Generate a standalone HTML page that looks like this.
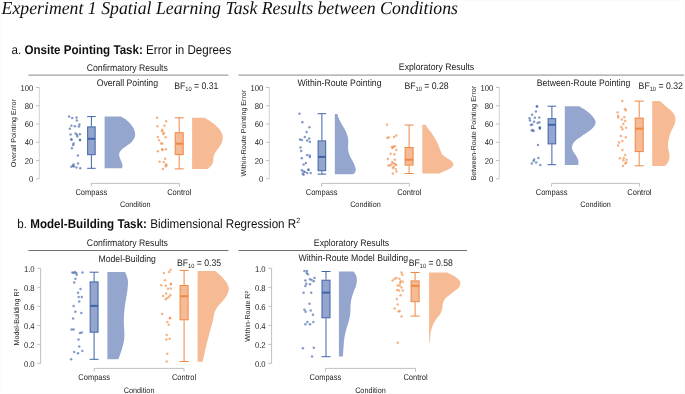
<!DOCTYPE html>
<html><head><meta charset="utf-8"><title>Figure</title>
<style>
html,body{margin:0;padding:0;background:#fff;}
body{width:685px;height:394px;overflow:hidden;position:relative;font-family:"Liberation Sans",sans-serif;}
svg{position:absolute;left:0;top:0;display:block;font-family:"Liberation Sans",sans-serif;will-change:transform;opacity:0.999;}
svg text{text-rendering:geometricPrecision;}
</style></head><body>
<svg width="685" height="394" viewBox="0 0 685 394">
<rect x="0" y="0" width="685" height="394" fill="#ffffff"/>
<path d="M0,0.5 H685 M684.5,0 V394 M0,393.5 H685 M1.1,16 V394" stroke="#fbfbfb" stroke-width="1" fill="none"/>
<text transform="translate(1.6,13.6) scale(1,1.03)" font-size="17.75" text-anchor="start" fill="#111" font-family="Liberation Serif" font-style="italic">Experiment 1 Spatial Learning Task Results between Conditions</text>
<text transform="translate(11.5,53.9) scale(1,1.09)" font-size="11.62" text-anchor="start" fill="#111" >a. <tspan font-weight="bold">Onsite Pointing Task:</tspan> Error in Degrees</text>
<text transform="translate(17.3,227.8) scale(1,1.09)" font-size="11.63" text-anchor="start" fill="#111" >b. <tspan font-weight="bold">Model-Building Task:</tspan> Bidimensional Regression R<tspan font-size="7" dy="-4">2</tspan></text>
<line x1="28.4" y1="75.05" x2="228.4" y2="75.05" stroke="#a0a0a0" stroke-width="1.2"/>
<line x1="238.5" y1="75.05" x2="684" y2="75.05" stroke="#a0a0a0" stroke-width="1.2"/>
<line x1="28.4" y1="250.5" x2="228.4" y2="250.5" stroke="#707070" stroke-width="1"/>
<line x1="238.5" y1="250.5" x2="467" y2="250.5" stroke="#707070" stroke-width="1"/>
<text transform="translate(127.3,70.55000000000001) scale(1,1.1)" font-size="8.7" text-anchor="middle" fill="#1c1c1c" >Confirmatory Results</text>
<text transform="translate(436.5,70.15) scale(1,1.1)" font-size="8.7" text-anchor="middle" fill="#1c1c1c" >Exploratory Results</text>
<text transform="translate(127.4,245.65) scale(1,1.1)" font-size="8.7" text-anchor="middle" fill="#1c1c1c" >Confirmatory Results</text>
<text transform="translate(351.5,245.85) scale(1,1.1)" font-size="8.7" text-anchor="middle" fill="#1c1c1c" >Exploratory Results</text>
<text transform="translate(127.3,86.45) scale(1,1.1)" font-size="8.7" text-anchor="middle" fill="#1c1c1c" >Overall Pointing</text>
<text transform="translate(339.5,86.05000000000001) scale(1,1.1)" font-size="8.7" text-anchor="middle" fill="#1c1c1c" >Within-Route Pointing</text>
<text transform="translate(583.5,86.45) scale(1,1.1)" font-size="8.7" text-anchor="middle" fill="#1c1c1c" >Between-Route Pointing</text>
<text transform="translate(127.2,262.15) scale(1,1.1)" font-size="8.7" text-anchor="middle" fill="#1c1c1c" >Model-Building</text>
<text transform="translate(353.3,261.15) scale(1,1.1)" font-size="8.7" text-anchor="middle" fill="#1c1c1c" >Within-Route Model Building</text>
<text transform="translate(174.2,89.1) scale(1,1.1)" font-size="8.7" text-anchor="start" fill="#1c1c1c" >BF<tspan font-size="5.7" dy="2.0">10</tspan><tspan dy="-2.0"> = 0.31</tspan></text>
<text transform="translate(404.4,89.1) scale(1,1.1)" font-size="8.7" text-anchor="start" fill="#1c1c1c" >BF<tspan font-size="5.7" dy="2.0">10</tspan><tspan dy="-2.0"> = 0.28</tspan></text>
<text transform="translate(638.6,89.2) scale(1,1.1)" font-size="8.7" text-anchor="start" fill="#1c1c1c" >BF<tspan font-size="5.7" dy="2.0">10</tspan><tspan dy="-2.0"> = 0.32</tspan></text>
<text transform="translate(176.9,265.7) scale(1,1.1)" font-size="8.7" text-anchor="start" fill="#1c1c1c" >BF<tspan font-size="5.7" dy="2.0">10</tspan><tspan dy="-2.0"> = 0.35</tspan></text>
<text transform="translate(408.7,265.5) scale(1,1.1)" font-size="8.7" text-anchor="start" fill="#1c1c1c" >BF<tspan font-size="5.7" dy="2.0">10</tspan><tspan dy="-2.0"> = 0.58</tspan></text>
<line x1="39.3" y1="178.8" x2="39.3" y2="87.5" stroke="#c6c6c6" stroke-width="0.8"/><line x1="36.0" y1="178.8" x2="39.3" y2="178.8" stroke="#b0b0b0" stroke-width="0.8"/><text transform="translate(33.3,181.8) scale(1,1.09)" font-size="7.7" text-anchor="end" fill="#1c1c1c" >0</text><line x1="36.0" y1="160.54000000000002" x2="39.3" y2="160.54000000000002" stroke="#b0b0b0" stroke-width="0.8"/><text transform="translate(33.3,163.54000000000002) scale(1,1.09)" font-size="7.7" text-anchor="end" fill="#1c1c1c" >20</text><line x1="36.0" y1="142.28" x2="39.3" y2="142.28" stroke="#b0b0b0" stroke-width="0.8"/><text transform="translate(33.3,145.28) scale(1,1.09)" font-size="7.7" text-anchor="end" fill="#1c1c1c" >40</text><line x1="36.0" y1="124.02000000000001" x2="39.3" y2="124.02000000000001" stroke="#b0b0b0" stroke-width="0.8"/><text transform="translate(33.3,127.02000000000001) scale(1,1.09)" font-size="7.7" text-anchor="end" fill="#1c1c1c" >60</text><line x1="36.0" y1="105.76" x2="39.3" y2="105.76" stroke="#b0b0b0" stroke-width="0.8"/><text transform="translate(33.3,108.76) scale(1,1.09)" font-size="7.7" text-anchor="end" fill="#1c1c1c" >80</text><line x1="36.0" y1="87.5" x2="39.3" y2="87.5" stroke="#b0b0b0" stroke-width="0.8"/><text transform="translate(33.3,90.5) scale(1,1.09)" font-size="7.7" text-anchor="end" fill="#1c1c1c" >100</text><text transform="translate(16,133.15) rotate(-90)" font-size="7.12" text-anchor="middle" fill="#1c1c1c">Overall Pointing Error</text>
<path d="M91.3,186.70000000000002 V183.4 H179.3 V186.70000000000002" fill="none" stroke="#b0b0b0" stroke-width="0.8"/><text transform="translate(91.3,195.0) scale(1,1.11)" font-size="7.5" text-anchor="middle" fill="#1c1c1c" >Compass</text><text transform="translate(179.3,195.0) scale(1,1.11)" font-size="7.5" text-anchor="middle" fill="#1c1c1c" >Control</text><text transform="translate(135.3,206.9) scale(1,1.1)" font-size="7.25" text-anchor="middle" fill="#1c1c1c" >Condition</text>
<path d="M104.6,116.6 L120.7,116.6 C121.65,117.15 124.75,118.67 126.40,119.90 C128.05,121.13 129.35,122.48 130.60,124.00 C131.85,125.52 133.13,127.33 133.90,129.00 C134.67,130.67 135.12,132.48 135.20,134.00 C135.28,135.52 135.03,136.73 134.40,138.10 C133.77,139.47 132.73,140.88 131.40,142.20 C130.07,143.52 128.05,144.75 126.40,146.00 C124.75,147.25 122.68,148.48 121.50,149.70 C120.32,150.92 119.63,152.07 119.30,153.30 C118.97,154.53 119.18,155.78 119.50,157.10 C119.82,158.42 120.70,159.82 121.20,161.20 C121.70,162.58 122.37,164.23 122.50,165.40 C122.63,166.57 122.08,167.73 122.00,168.20 L104.6,168.2 Z" fill="#94a6cd"/>
<line x1="91.4" y1="116.6" x2="91.4" y2="126.4" stroke="#3f63a8" stroke-width="1"/><line x1="91.4" y1="155.2" x2="91.4" y2="168.3" stroke="#3f63a8" stroke-width="1"/><line x1="87.15" y1="116.6" x2="95.65" y2="116.6" stroke="#3f63a8" stroke-width="1"/><line x1="87.15" y1="168.3" x2="95.65" y2="168.3" stroke="#3f63a8" stroke-width="1"/><rect x="87.65" y="126.9" width="7.50" height="27.80" fill="#94a6cd" stroke="#3f63a8" stroke-width="1"/><line x1="87.65" y1="138.8" x2="95.15" y2="138.8" stroke="#3f63a8" stroke-width="2"/>
<circle cx="69.1" cy="116.6" r="1.25" fill="#3f63a8" fill-opacity="0.64"/><circle cx="72.2" cy="117.9" r="1.25" fill="#3f63a8" fill-opacity="0.64"/><circle cx="76.5" cy="117.4" r="1.25" fill="#3f63a8" fill-opacity="0.64"/><circle cx="76.9" cy="120.6" r="1.25" fill="#3f63a8" fill-opacity="0.64"/><circle cx="79.4" cy="124.5" r="1.25" fill="#3f63a8" fill-opacity="0.64"/><circle cx="78.9" cy="126.5" r="1.25" fill="#3f63a8" fill-opacity="0.64"/><circle cx="71.4" cy="125.7" r="1.25" fill="#3f63a8" fill-opacity="0.64"/><circle cx="74.9" cy="126.2" r="1.25" fill="#3f63a8" fill-opacity="0.64"/><circle cx="69.8" cy="128.7" r="1.25" fill="#3f63a8" fill-opacity="0.64"/><circle cx="70.6" cy="134.5" r="1.25" fill="#3f63a8" fill-opacity="0.64"/><circle cx="75.6" cy="133.6" r="1.25" fill="#3f63a8" fill-opacity="0.64"/><circle cx="76.9" cy="134.8" r="1.25" fill="#3f63a8" fill-opacity="0.64"/><circle cx="79.9" cy="134.3" r="1.25" fill="#3f63a8" fill-opacity="0.64"/><circle cx="77.4" cy="136.4" r="1.25" fill="#3f63a8" fill-opacity="0.64"/><circle cx="71.3" cy="139.4" r="1.25" fill="#3f63a8" fill-opacity="0.64"/><circle cx="71.5" cy="139.6" r="1.25" fill="#3f63a8" fill-opacity="0.64"/><circle cx="79.9" cy="139.9" r="1.25" fill="#3f63a8" fill-opacity="0.64"/><circle cx="80.1" cy="140.0" r="1.25" fill="#3f63a8" fill-opacity="0.64"/><circle cx="73.6" cy="143.6" r="1.25" fill="#3f63a8" fill-opacity="0.64"/><circle cx="73.2" cy="145" r="1.25" fill="#3f63a8" fill-opacity="0.64"/><circle cx="71.9" cy="148.3" r="1.25" fill="#3f63a8" fill-opacity="0.64"/><circle cx="77.9" cy="155.6" r="1.25" fill="#3f63a8" fill-opacity="0.64"/><circle cx="78" cy="163.4" r="1.25" fill="#3f63a8" fill-opacity="0.64"/><circle cx="73.6" cy="164.5" r="1.25" fill="#3f63a8" fill-opacity="0.64"/><circle cx="72.9" cy="165.7" r="1.25" fill="#3f63a8" fill-opacity="0.64"/><circle cx="71.4" cy="166.7" r="1.25" fill="#3f63a8" fill-opacity="0.64"/><circle cx="73.9" cy="166.4" r="1.25" fill="#3f63a8" fill-opacity="0.64"/><circle cx="76.5" cy="167.4" r="1.25" fill="#3f63a8" fill-opacity="0.64"/><circle cx="80.3" cy="168.2" r="1.25" fill="#3f63a8" fill-opacity="0.64"/>
<path d="M192.1,117.8 L204.5,117.8 C205.33,118.28 207.70,119.52 209.50,120.70 C211.30,121.88 213.57,123.38 215.30,124.90 C217.03,126.42 218.72,128.15 219.90,129.80 C221.08,131.45 221.93,133.28 222.40,134.80 C222.87,136.32 222.83,137.52 222.70,138.90 C222.57,140.28 222.28,141.58 221.60,143.10 C220.92,144.62 219.65,146.42 218.60,148.00 C217.55,149.58 216.13,151.22 215.30,152.60 C214.47,153.98 213.93,155.00 213.60,156.30 C213.27,157.60 213.57,159.03 213.30,160.40 C213.03,161.77 212.92,163.07 212.00,164.50 C211.08,165.93 208.50,168.25 207.80,169.00 L192.1,169 Z" fill="#f6ba95"/>
<line x1="179.2" y1="117.8" x2="179.2" y2="132.2" stroke="#ef8843" stroke-width="1"/><line x1="179.2" y1="155.1" x2="179.2" y2="168.9" stroke="#ef8843" stroke-width="1"/><line x1="174.7" y1="117.8" x2="183.7" y2="117.8" stroke="#ef8843" stroke-width="1"/><line x1="174.7" y1="168.9" x2="183.7" y2="168.9" stroke="#ef8843" stroke-width="1"/><rect x="175.20" y="132.7" width="8.00" height="21.90" fill="#f6ba95" stroke="#ef8843" stroke-width="1"/><line x1="175.20" y1="143.7" x2="183.20" y2="143.7" stroke="#ef8843" stroke-width="2"/>
<circle cx="157.1" cy="117.8" r="1.25" fill="#ef8843" fill-opacity="0.64"/><circle cx="166.2" cy="121.2" r="1.25" fill="#ef8843" fill-opacity="0.64"/><circle cx="157.4" cy="126.2" r="1.25" fill="#ef8843" fill-opacity="0.64"/><circle cx="164.5" cy="125.7" r="1.25" fill="#ef8843" fill-opacity="0.64"/><circle cx="162.4" cy="129.8" r="1.25" fill="#ef8843" fill-opacity="0.64"/><circle cx="161.9" cy="131.2" r="1.25" fill="#ef8843" fill-opacity="0.64"/><circle cx="164" cy="133.1" r="1.25" fill="#ef8843" fill-opacity="0.64"/><circle cx="163.2" cy="134" r="1.25" fill="#ef8843" fill-opacity="0.64"/><circle cx="157.9" cy="136.9" r="1.25" fill="#ef8843" fill-opacity="0.64"/><circle cx="165.7" cy="137.3" r="1.25" fill="#ef8843" fill-opacity="0.64"/><circle cx="159.1" cy="140.2" r="1.25" fill="#ef8843" fill-opacity="0.64"/><circle cx="161.2" cy="143.6" r="1.25" fill="#ef8843" fill-opacity="0.64"/><circle cx="162.1" cy="143.6" r="1.25" fill="#ef8843" fill-opacity="0.64"/><circle cx="157.9" cy="151.3" r="1.25" fill="#ef8843" fill-opacity="0.64"/><circle cx="162.1" cy="149.3" r="1.25" fill="#ef8843" fill-opacity="0.64"/><circle cx="162.6" cy="150" r="1.25" fill="#ef8843" fill-opacity="0.64"/><circle cx="166" cy="149.3" r="1.25" fill="#ef8843" fill-opacity="0.64"/><circle cx="165.2" cy="158.8" r="1.25" fill="#ef8843" fill-opacity="0.64"/><circle cx="159.6" cy="161.7" r="1.25" fill="#ef8843" fill-opacity="0.64"/><circle cx="163.6" cy="162.1" r="1.25" fill="#ef8843" fill-opacity="0.64"/><circle cx="166" cy="164.2" r="1.25" fill="#ef8843" fill-opacity="0.64"/><circle cx="166.5" cy="165.4" r="1.25" fill="#ef8843" fill-opacity="0.64"/><circle cx="165.7" cy="166.2" r="1.25" fill="#ef8843" fill-opacity="0.64"/><circle cx="162.9" cy="169" r="1.25" fill="#ef8843" fill-opacity="0.64"/>
<line x1="269.3" y1="178.8" x2="269.3" y2="87.5" stroke="#c6c6c6" stroke-width="0.8"/><line x1="266.0" y1="178.8" x2="269.3" y2="178.8" stroke="#b0b0b0" stroke-width="0.8"/><text transform="translate(263.3,181.8) scale(1,1.09)" font-size="7.7" text-anchor="end" fill="#1c1c1c" >0</text><line x1="266.0" y1="160.54000000000002" x2="269.3" y2="160.54000000000002" stroke="#b0b0b0" stroke-width="0.8"/><text transform="translate(263.3,163.54000000000002) scale(1,1.09)" font-size="7.7" text-anchor="end" fill="#1c1c1c" >20</text><line x1="266.0" y1="142.28" x2="269.3" y2="142.28" stroke="#b0b0b0" stroke-width="0.8"/><text transform="translate(263.3,145.28) scale(1,1.09)" font-size="7.7" text-anchor="end" fill="#1c1c1c" >40</text><line x1="266.0" y1="124.02000000000001" x2="269.3" y2="124.02000000000001" stroke="#b0b0b0" stroke-width="0.8"/><text transform="translate(263.3,127.02000000000001) scale(1,1.09)" font-size="7.7" text-anchor="end" fill="#1c1c1c" >60</text><line x1="266.0" y1="105.76" x2="269.3" y2="105.76" stroke="#b0b0b0" stroke-width="0.8"/><text transform="translate(263.3,108.76) scale(1,1.09)" font-size="7.7" text-anchor="end" fill="#1c1c1c" >80</text><line x1="266.0" y1="87.5" x2="269.3" y2="87.5" stroke="#b0b0b0" stroke-width="0.8"/><text transform="translate(263.3,90.5) scale(1,1.09)" font-size="7.7" text-anchor="end" fill="#1c1c1c" >100</text><text transform="translate(246.2,133.15) rotate(-90)" font-size="7.12" text-anchor="middle" fill="#1c1c1c">Within-Route Pointing Error</text>
<path d="M321.6,186.70000000000002 V183.4 H409.3 V186.70000000000002" fill="none" stroke="#b0b0b0" stroke-width="0.8"/><text transform="translate(321.6,195.0) scale(1,1.11)" font-size="7.5" text-anchor="middle" fill="#1c1c1c" >Compass</text><text transform="translate(409.3,195.0) scale(1,1.11)" font-size="7.5" text-anchor="middle" fill="#1c1c1c" >Control</text><text transform="translate(365.45000000000005,206.9) scale(1,1.1)" font-size="7.25" text-anchor="middle" fill="#1c1c1c" >Condition</text>
<path d="M334.8,113.9 L337.5,113.9 C337.73,114.70 338.22,117.02 338.90,118.70 C339.58,120.38 340.62,122.23 341.60,124.00 C342.58,125.77 343.87,127.52 344.80,129.30 C345.73,131.08 346.62,132.92 347.20,134.70 C347.78,136.48 348.15,138.23 348.30,140.00 C348.45,141.77 348.10,143.52 348.10,145.30 C348.10,147.08 348.00,148.92 348.30,150.70 C348.60,152.48 349.15,154.23 349.90,156.00 C350.65,157.77 351.92,159.52 352.80,161.30 C353.68,163.08 354.70,165.22 355.20,166.70 C355.70,168.18 355.92,169.17 355.80,170.20 C355.68,171.23 355.00,172.22 354.50,172.90 C354.00,173.58 353.08,174.07 352.80,174.30 L334.8,174.3 Z" fill="#94a6cd"/>
<line x1="321.9" y1="113.7" x2="321.9" y2="140.4" stroke="#3f63a8" stroke-width="1"/><line x1="321.9" y1="171.2" x2="321.9" y2="174.1" stroke="#3f63a8" stroke-width="1"/><line x1="317.59999999999997" y1="113.7" x2="326.2" y2="113.7" stroke="#3f63a8" stroke-width="1"/><line x1="317.59999999999997" y1="174.1" x2="326.2" y2="174.1" stroke="#3f63a8" stroke-width="1"/><rect x="318.10" y="140.9" width="7.60" height="29.80" fill="#94a6cd" stroke="#3f63a8" stroke-width="1"/><line x1="318.10" y1="156.9" x2="325.70" y2="156.9" stroke="#3f63a8" stroke-width="2"/>
<circle cx="299.5" cy="113.7" r="1.25" fill="#3f63a8" fill-opacity="0.64"/><circle cx="302.3" cy="122.2" r="1.25" fill="#3f63a8" fill-opacity="0.64"/><circle cx="309.4" cy="127.2" r="1.25" fill="#3f63a8" fill-opacity="0.64"/><circle cx="306.6" cy="132" r="1.25" fill="#3f63a8" fill-opacity="0.64"/><circle cx="304.8" cy="137" r="1.25" fill="#3f63a8" fill-opacity="0.64"/><circle cx="309.2" cy="138.6" r="1.25" fill="#3f63a8" fill-opacity="0.64"/><circle cx="300" cy="139.5" r="1.25" fill="#3f63a8" fill-opacity="0.64"/><circle cx="301.8" cy="140" r="1.25" fill="#3f63a8" fill-opacity="0.64"/><circle cx="307.1" cy="140.4" r="1.25" fill="#3f63a8" fill-opacity="0.64"/><circle cx="309.8" cy="141.8" r="1.25" fill="#3f63a8" fill-opacity="0.64"/><circle cx="300.5" cy="147.5" r="1.25" fill="#3f63a8" fill-opacity="0.64"/><circle cx="301.2" cy="151" r="1.25" fill="#3f63a8" fill-opacity="0.64"/><circle cx="307.1" cy="155.1" r="1.25" fill="#3f63a8" fill-opacity="0.64"/><circle cx="309.8" cy="155.5" r="1.25" fill="#3f63a8" fill-opacity="0.64"/><circle cx="309.8" cy="156.9" r="1.25" fill="#3f63a8" fill-opacity="0.64"/><circle cx="301.8" cy="158.3" r="1.25" fill="#3f63a8" fill-opacity="0.64"/><circle cx="305.9" cy="163.1" r="1.25" fill="#3f63a8" fill-opacity="0.64"/><circle cx="303.6" cy="164.4" r="1.25" fill="#3f63a8" fill-opacity="0.64"/><circle cx="308.4" cy="169.7" r="1.25" fill="#3f63a8" fill-opacity="0.64"/><circle cx="308.5" cy="169.8" r="1.25" fill="#3f63a8" fill-opacity="0.64"/><circle cx="301.8" cy="170.2" r="1.25" fill="#3f63a8" fill-opacity="0.64"/><circle cx="303.6" cy="171.6" r="1.25" fill="#3f63a8" fill-opacity="0.64"/><circle cx="304.8" cy="172" r="1.25" fill="#3f63a8" fill-opacity="0.64"/><circle cx="307.1" cy="172.9" r="1.25" fill="#3f63a8" fill-opacity="0.64"/><circle cx="310.7" cy="172.9" r="1.25" fill="#3f63a8" fill-opacity="0.64"/><circle cx="302.7" cy="173.8" r="1.25" fill="#3f63a8" fill-opacity="0.64"/><circle cx="303.6" cy="174.7" r="1.25" fill="#3f63a8" fill-opacity="0.64"/>
<path d="M422.3,124.8 L425.6,124.8 C425.98,125.43 426.88,127.20 427.90,128.60 C428.92,130.00 430.43,131.42 431.70,133.20 C432.97,134.98 434.37,137.27 435.50,139.30 C436.63,141.33 437.67,143.50 438.50,145.40 C439.33,147.30 439.87,149.18 440.50,150.70 C441.13,152.22 441.37,153.37 442.30,154.50 C443.23,155.63 444.70,156.48 446.10,157.50 C447.50,158.52 449.50,159.58 450.70,160.60 C451.90,161.62 453.05,162.53 453.30,163.60 C453.55,164.67 453.13,165.98 452.20,167.00 C451.27,168.02 449.35,168.87 447.70,169.70 C446.05,170.53 443.70,171.37 442.30,172.00 C440.90,172.63 439.80,173.25 439.30,173.50 L422.3,173.5 Z" fill="#f6ba95"/>
<line x1="409.1" y1="125.0" x2="409.1" y2="147.0" stroke="#ef8843" stroke-width="1"/><line x1="409.1" y1="165.6" x2="409.1" y2="173.5" stroke="#ef8843" stroke-width="1"/><line x1="404.6" y1="125.0" x2="413.6" y2="125.0" stroke="#ef8843" stroke-width="1"/><line x1="404.6" y1="173.5" x2="413.6" y2="173.5" stroke="#ef8843" stroke-width="1"/><rect x="405.10" y="147.5" width="8.00" height="17.60" fill="#f6ba95" stroke="#ef8843" stroke-width="1"/><line x1="405.10" y1="159.7" x2="413.10" y2="159.7" stroke="#ef8843" stroke-width="2"/>
<circle cx="387" cy="124.8" r="1.25" fill="#ef8843" fill-opacity="0.64"/><circle cx="387.3" cy="138.1" r="1.25" fill="#ef8843" fill-opacity="0.64"/><circle cx="388.7" cy="137.2" r="1.25" fill="#ef8843" fill-opacity="0.64"/><circle cx="394.1" cy="137" r="1.25" fill="#ef8843" fill-opacity="0.64"/><circle cx="396.3" cy="135.5" r="1.25" fill="#ef8843" fill-opacity="0.64"/><circle cx="391.9" cy="146.9" r="1.25" fill="#ef8843" fill-opacity="0.64"/><circle cx="393.4" cy="146.6" r="1.25" fill="#ef8843" fill-opacity="0.64"/><circle cx="394.9" cy="146.3" r="1.25" fill="#ef8843" fill-opacity="0.64"/><circle cx="392.6" cy="148" r="1.25" fill="#ef8843" fill-opacity="0.64"/><circle cx="396.4" cy="149.9" r="1.25" fill="#ef8843" fill-opacity="0.64"/><circle cx="390.6" cy="153.7" r="1.25" fill="#ef8843" fill-opacity="0.64"/><circle cx="394.4" cy="154.2" r="1.25" fill="#ef8843" fill-opacity="0.64"/><circle cx="387.9" cy="159.1" r="1.25" fill="#ef8843" fill-opacity="0.64"/><circle cx="394.9" cy="159.8" r="1.25" fill="#ef8843" fill-opacity="0.64"/><circle cx="392.2" cy="162.1" r="1.25" fill="#ef8843" fill-opacity="0.64"/><circle cx="393.4" cy="163.3" r="1.25" fill="#ef8843" fill-opacity="0.64"/><circle cx="395.2" cy="164.1" r="1.25" fill="#ef8843" fill-opacity="0.64"/><circle cx="391.4" cy="164.4" r="1.25" fill="#ef8843" fill-opacity="0.64"/><circle cx="388.4" cy="165.6" r="1.25" fill="#ef8843" fill-opacity="0.64"/><circle cx="389.9" cy="165.6" r="1.25" fill="#ef8843" fill-opacity="0.64"/><circle cx="396" cy="165.1" r="1.25" fill="#ef8843" fill-opacity="0.64"/><circle cx="393.7" cy="166.7" r="1.25" fill="#ef8843" fill-opacity="0.64"/><circle cx="392.9" cy="167.9" r="1.25" fill="#ef8843" fill-opacity="0.64"/><circle cx="395.7" cy="168.9" r="1.25" fill="#ef8843" fill-opacity="0.64"/><circle cx="396.4" cy="171.5" r="1.25" fill="#ef8843" fill-opacity="0.64"/><circle cx="392.9" cy="173.5" r="1.25" fill="#ef8843" fill-opacity="0.64"/>
<line x1="499.3" y1="178.8" x2="499.3" y2="87.5" stroke="#c6c6c6" stroke-width="0.8"/><line x1="496.0" y1="178.8" x2="499.3" y2="178.8" stroke="#b0b0b0" stroke-width="0.8"/><text transform="translate(493.3,181.8) scale(1,1.09)" font-size="7.7" text-anchor="end" fill="#1c1c1c" >0</text><line x1="496.0" y1="160.54000000000002" x2="499.3" y2="160.54000000000002" stroke="#b0b0b0" stroke-width="0.8"/><text transform="translate(493.3,163.54000000000002) scale(1,1.09)" font-size="7.7" text-anchor="end" fill="#1c1c1c" >20</text><line x1="496.0" y1="142.28" x2="499.3" y2="142.28" stroke="#b0b0b0" stroke-width="0.8"/><text transform="translate(493.3,145.28) scale(1,1.09)" font-size="7.7" text-anchor="end" fill="#1c1c1c" >40</text><line x1="496.0" y1="124.02000000000001" x2="499.3" y2="124.02000000000001" stroke="#b0b0b0" stroke-width="0.8"/><text transform="translate(493.3,127.02000000000001) scale(1,1.09)" font-size="7.7" text-anchor="end" fill="#1c1c1c" >60</text><line x1="496.0" y1="105.76" x2="499.3" y2="105.76" stroke="#b0b0b0" stroke-width="0.8"/><text transform="translate(493.3,108.76) scale(1,1.09)" font-size="7.7" text-anchor="end" fill="#1c1c1c" >80</text><line x1="496.0" y1="87.5" x2="499.3" y2="87.5" stroke="#b0b0b0" stroke-width="0.8"/><text transform="translate(493.3,90.5) scale(1,1.09)" font-size="7.7" text-anchor="end" fill="#1c1c1c" >100</text><text transform="translate(476.2,133.15) rotate(-90)" font-size="7.12" text-anchor="middle" fill="#1c1c1c">Between-Route Pointing Error</text>
<path d="M551.6,186.70000000000002 V183.4 H639.4 V186.70000000000002" fill="none" stroke="#b0b0b0" stroke-width="0.8"/><text transform="translate(551.6,195.0) scale(1,1.11)" font-size="7.5" text-anchor="middle" fill="#1c1c1c" >Compass</text><text transform="translate(639.4,195.0) scale(1,1.11)" font-size="7.5" text-anchor="middle" fill="#1c1c1c" >Control</text><text transform="translate(595.5,206.9) scale(1,1.1)" font-size="7.25" text-anchor="middle" fill="#1c1c1c" >Condition</text>
<path d="M564.8,106.2 L579.2,106.2 C580.15,106.80 583.00,108.47 584.90,109.80 C586.80,111.13 589.03,112.72 590.60,114.20 C592.17,115.68 593.47,117.37 594.30,118.70 C595.13,120.03 595.68,120.87 595.60,122.20 C595.52,123.53 595.00,125.13 593.80,126.70 C592.60,128.27 590.48,129.98 588.40,131.60 C586.32,133.22 583.52,134.85 581.30,136.40 C579.08,137.95 576.63,139.32 575.10,140.90 C573.57,142.48 572.48,144.27 572.10,145.90 C571.72,147.53 572.15,149.10 572.80,150.70 C573.45,152.30 575.08,153.88 576.00,155.50 C576.92,157.12 577.92,158.83 578.30,160.40 C578.68,161.97 578.30,164.15 578.30,164.90 L564.8,164.9 Z" fill="#94a6cd"/>
<line x1="551.9" y1="106.2" x2="551.9" y2="118.2" stroke="#3f63a8" stroke-width="1"/><line x1="551.9" y1="144.4" x2="551.9" y2="164.7" stroke="#3f63a8" stroke-width="1"/><line x1="547.6" y1="106.2" x2="556.1999999999999" y2="106.2" stroke="#3f63a8" stroke-width="1"/><line x1="547.6" y1="164.7" x2="556.1999999999999" y2="164.7" stroke="#3f63a8" stroke-width="1"/><rect x="548.10" y="118.7" width="7.60" height="25.20" fill="#94a6cd" stroke="#3f63a8" stroke-width="1"/><line x1="548.10" y1="124.8" x2="555.70" y2="124.8" stroke="#3f63a8" stroke-width="2"/>
<circle cx="536.9" cy="106.2" r="1.25" fill="#3f63a8" fill-opacity="0.64"/><circle cx="537.0" cy="106.4" r="1.25" fill="#3f63a8" fill-opacity="0.64"/><circle cx="535.9" cy="111.6" r="1.25" fill="#3f63a8" fill-opacity="0.64"/><circle cx="532.1" cy="114.8" r="1.25" fill="#3f63a8" fill-opacity="0.64"/><circle cx="534.8" cy="117.8" r="1.25" fill="#3f63a8" fill-opacity="0.64"/><circle cx="539.2" cy="117.4" r="1.25" fill="#3f63a8" fill-opacity="0.64"/><circle cx="529.5" cy="118.3" r="1.25" fill="#3f63a8" fill-opacity="0.64"/><circle cx="530" cy="120.4" r="1.25" fill="#3f63a8" fill-opacity="0.64"/><circle cx="534.1" cy="121.7" r="1.25" fill="#3f63a8" fill-opacity="0.64"/><circle cx="537.6" cy="123.1" r="1.25" fill="#3f63a8" fill-opacity="0.64"/><circle cx="539.4" cy="122.2" r="1.25" fill="#3f63a8" fill-opacity="0.64"/><circle cx="530.9" cy="124.9" r="1.25" fill="#3f63a8" fill-opacity="0.64"/><circle cx="532.3" cy="124.5" r="1.25" fill="#3f63a8" fill-opacity="0.64"/><circle cx="539.8" cy="127.6" r="1.25" fill="#3f63a8" fill-opacity="0.64"/><circle cx="539.9" cy="127.8" r="1.25" fill="#3f63a8" fill-opacity="0.64"/><circle cx="539.8" cy="128.8" r="1.25" fill="#3f63a8" fill-opacity="0.64"/><circle cx="531.8" cy="130.6" r="1.25" fill="#3f63a8" fill-opacity="0.64"/><circle cx="533.6" cy="131.1" r="1.25" fill="#3f63a8" fill-opacity="0.64"/><circle cx="532.7" cy="129.9" r="1.25" fill="#3f63a8" fill-opacity="0.64"/><circle cx="538" cy="145" r="1.25" fill="#3f63a8" fill-opacity="0.64"/><circle cx="538.4" cy="158.1" r="1.25" fill="#3f63a8" fill-opacity="0.64"/><circle cx="534.1" cy="159.6" r="1.25" fill="#3f63a8" fill-opacity="0.64"/><circle cx="533.6" cy="161" r="1.25" fill="#3f63a8" fill-opacity="0.64"/><circle cx="531.8" cy="163.5" r="1.25" fill="#3f63a8" fill-opacity="0.64"/><circle cx="536.2" cy="162.6" r="1.25" fill="#3f63a8" fill-opacity="0.64"/><circle cx="540.3" cy="164.9" r="1.25" fill="#3f63a8" fill-opacity="0.64"/>
<path d="M652.2,101.1 L659.9,101.1 C660.92,101.98 664.03,104.72 666.00,106.40 C667.97,108.08 670.22,109.60 671.70,111.20 C673.18,112.80 674.27,114.57 674.90,116.00 C675.53,117.43 675.57,118.38 675.50,119.80 C675.43,121.22 675.13,122.77 674.50,124.50 C673.87,126.23 672.55,128.28 671.70,130.20 C670.85,132.12 669.98,133.93 669.40,136.00 C668.82,138.07 668.40,140.55 668.20,142.60 C668.00,144.65 668.03,146.55 668.20,148.30 C668.37,150.05 669.00,151.50 669.20,153.10 C669.40,154.70 669.62,156.32 669.40,157.90 C669.18,159.48 668.63,161.27 667.90,162.60 C667.17,163.93 665.48,165.35 665.00,165.90 L652.2,165.9 Z" fill="#f6ba95"/>
<line x1="639.2" y1="101.1" x2="639.2" y2="117.6" stroke="#ef8843" stroke-width="1"/><line x1="639.2" y1="152.1" x2="639.2" y2="165.8" stroke="#ef8843" stroke-width="1"/><line x1="634.7" y1="101.1" x2="643.7" y2="101.1" stroke="#ef8843" stroke-width="1"/><line x1="634.7" y1="165.8" x2="643.7" y2="165.8" stroke="#ef8843" stroke-width="1"/><rect x="635.20" y="118.1" width="8.00" height="33.50" fill="#f6ba95" stroke="#ef8843" stroke-width="1"/><line x1="635.20" y1="128.7" x2="643.20" y2="128.7" stroke="#ef8843" stroke-width="2"/>
<circle cx="622.4" cy="101.1" r="1.25" fill="#ef8843" fill-opacity="0.64"/><circle cx="624.9" cy="108.9" r="1.25" fill="#ef8843" fill-opacity="0.64"/><circle cx="626" cy="110.2" r="1.25" fill="#ef8843" fill-opacity="0.64"/><circle cx="617.6" cy="112.5" r="1.25" fill="#ef8843" fill-opacity="0.64"/><circle cx="618" cy="116" r="1.25" fill="#ef8843" fill-opacity="0.64"/><circle cx="618.2" cy="117.5" r="1.25" fill="#ef8843" fill-opacity="0.64"/><circle cx="624.3" cy="117.3" r="1.25" fill="#ef8843" fill-opacity="0.64"/><circle cx="621.8" cy="119.4" r="1.25" fill="#ef8843" fill-opacity="0.64"/><circle cx="625.2" cy="121.1" r="1.25" fill="#ef8843" fill-opacity="0.64"/><circle cx="623.3" cy="124" r="1.25" fill="#ef8843" fill-opacity="0.64"/><circle cx="621.4" cy="127" r="1.25" fill="#ef8843" fill-opacity="0.64"/><circle cx="626.2" cy="127.8" r="1.25" fill="#ef8843" fill-opacity="0.64"/><circle cx="622.4" cy="129.3" r="1.25" fill="#ef8843" fill-opacity="0.64"/><circle cx="620.9" cy="136" r="1.25" fill="#ef8843" fill-opacity="0.64"/><circle cx="625.8" cy="137.3" r="1.25" fill="#ef8843" fill-opacity="0.64"/><circle cx="622.4" cy="141.1" r="1.25" fill="#ef8843" fill-opacity="0.64"/><circle cx="619" cy="142.6" r="1.25" fill="#ef8843" fill-opacity="0.64"/><circle cx="618" cy="145.5" r="1.25" fill="#ef8843" fill-opacity="0.64"/><circle cx="622.4" cy="149.9" r="1.25" fill="#ef8843" fill-opacity="0.64"/><circle cx="625.2" cy="155" r="1.25" fill="#ef8843" fill-opacity="0.64"/><circle cx="619.9" cy="158.2" r="1.25" fill="#ef8843" fill-opacity="0.64"/><circle cx="623.7" cy="157.9" r="1.25" fill="#ef8843" fill-opacity="0.64"/><circle cx="626.6" cy="159.8" r="1.25" fill="#ef8843" fill-opacity="0.64"/><circle cx="623.3" cy="160.3" r="1.25" fill="#ef8843" fill-opacity="0.64"/><circle cx="626.2" cy="162.6" r="1.25" fill="#ef8843" fill-opacity="0.64"/><circle cx="625.2" cy="163.6" r="1.25" fill="#ef8843" fill-opacity="0.64"/><circle cx="623" cy="165.9" r="1.25" fill="#ef8843" fill-opacity="0.64"/>
<line x1="40.6" y1="363.4" x2="40.6" y2="268.3" stroke="#b0b0b0" stroke-width="0.8"/><line x1="37.300000000000004" y1="363.4" x2="40.6" y2="363.4" stroke="#b0b0b0" stroke-width="0.8"/><text transform="translate(34.6,367.34999999999997) scale(1,1.09)" font-size="7.7" text-anchor="end" fill="#1c1c1c" >0.0</text><line x1="37.300000000000004" y1="344.38" x2="40.6" y2="344.38" stroke="#b0b0b0" stroke-width="0.8"/><text transform="translate(34.6,348.33) scale(1,1.09)" font-size="7.7" text-anchor="end" fill="#1c1c1c" >0.2</text><line x1="37.300000000000004" y1="325.36" x2="40.6" y2="325.36" stroke="#b0b0b0" stroke-width="0.8"/><text transform="translate(34.6,329.31) scale(1,1.09)" font-size="7.7" text-anchor="end" fill="#1c1c1c" >0.4</text><line x1="37.300000000000004" y1="306.34" x2="40.6" y2="306.34" stroke="#b0b0b0" stroke-width="0.8"/><text transform="translate(34.6,310.28999999999996) scale(1,1.09)" font-size="7.7" text-anchor="end" fill="#1c1c1c" >0.6</text><line x1="37.300000000000004" y1="287.32" x2="40.6" y2="287.32" stroke="#b0b0b0" stroke-width="0.8"/><text transform="translate(34.6,291.27) scale(1,1.09)" font-size="7.7" text-anchor="end" fill="#1c1c1c" >0.8</text><line x1="37.300000000000004" y1="268.3" x2="40.6" y2="268.3" stroke="#b0b0b0" stroke-width="0.8"/><text transform="translate(34.6,272.25) scale(1,1.09)" font-size="7.7" text-anchor="end" fill="#1c1c1c" >1.0</text><text transform="translate(19.0,317.25) rotate(-90)" font-size="7.12" text-anchor="middle" fill="#1c1c1c">Model-Building R²</text>
<path d="M94.2,371.7 V368.4 H184 V371.7" fill="none" stroke="#b0b0b0" stroke-width="0.8"/><text transform="translate(94.2,379.6) scale(1,1.11)" font-size="7.5" text-anchor="middle" fill="#1c1c1c" >Compass</text><text transform="translate(184,379.6) scale(1,1.11)" font-size="7.5" text-anchor="middle" fill="#1c1c1c" >Control</text><text transform="translate(139.1,392.8) scale(1,1.1)" font-size="7.25" text-anchor="middle" fill="#1c1c1c" >Condition</text>
<path d="M107.4,272.1 L124.9,272.1 C125.18,272.65 126.10,274.00 126.60,275.40 C127.10,276.80 127.68,278.80 127.90,280.50 C128.12,282.20 128.02,283.70 127.90,285.60 C127.78,287.50 127.53,289.58 127.20,291.90 C126.87,294.22 126.33,296.75 125.90,299.50 C125.47,302.25 124.93,305.43 124.60,308.40 C124.27,311.37 124.02,314.55 123.90,317.30 C123.78,320.05 123.82,322.37 123.90,324.90 C123.98,327.43 124.37,329.97 124.40,332.50 C124.43,335.03 124.45,337.55 124.10,340.10 C123.75,342.65 123.02,345.25 122.30,347.80 C121.58,350.35 120.47,353.50 119.80,355.40 C119.13,357.30 118.55,358.57 118.30,359.20 L107.4,359.2 Z" fill="#94a6cd"/>
<line x1="94.1" y1="272.2" x2="94.1" y2="281.4" stroke="#3f63a8" stroke-width="1"/><line x1="94.1" y1="332.7" x2="94.1" y2="359.3" stroke="#3f63a8" stroke-width="1"/><line x1="89.64999999999999" y1="272.2" x2="98.55" y2="272.2" stroke="#3f63a8" stroke-width="1"/><line x1="89.64999999999999" y1="359.3" x2="98.55" y2="359.3" stroke="#3f63a8" stroke-width="1"/><rect x="90.15" y="281.9" width="7.90" height="50.30" fill="#94a6cd" stroke="#3f63a8" stroke-width="1"/><line x1="90.15" y1="305.9" x2="98.05" y2="305.9" stroke="#3f63a8" stroke-width="2"/>
<circle cx="72.4" cy="272.4" r="1.25" fill="#3f63a8" fill-opacity="0.64"/><circle cx="73.6" cy="272.9" r="1.25" fill="#3f63a8" fill-opacity="0.64"/><circle cx="74.9" cy="272.1" r="1.25" fill="#3f63a8" fill-opacity="0.64"/><circle cx="76.2" cy="272.9" r="1.25" fill="#3f63a8" fill-opacity="0.64"/><circle cx="76.7" cy="274.7" r="1.25" fill="#3f63a8" fill-opacity="0.64"/><circle cx="82.5" cy="272.4" r="1.25" fill="#3f63a8" fill-opacity="0.64"/><circle cx="75.4" cy="278.7" r="1.25" fill="#3f63a8" fill-opacity="0.64"/><circle cx="74.2" cy="282.5" r="1.25" fill="#3f63a8" fill-opacity="0.64"/><circle cx="80.5" cy="288.9" r="1.25" fill="#3f63a8" fill-opacity="0.64"/><circle cx="78" cy="292.7" r="1.25" fill="#3f63a8" fill-opacity="0.64"/><circle cx="78.7" cy="297" r="1.25" fill="#3f63a8" fill-opacity="0.64"/><circle cx="81.8" cy="297" r="1.25" fill="#3f63a8" fill-opacity="0.64"/><circle cx="79.2" cy="301.6" r="1.25" fill="#3f63a8" fill-opacity="0.64"/><circle cx="73.6" cy="305.9" r="1.25" fill="#3f63a8" fill-opacity="0.64"/><circle cx="75.4" cy="311.7" r="1.25" fill="#3f63a8" fill-opacity="0.64"/><circle cx="81.3" cy="313" r="1.25" fill="#3f63a8" fill-opacity="0.64"/><circle cx="73.1" cy="318.6" r="1.25" fill="#3f63a8" fill-opacity="0.64"/><circle cx="71.6" cy="329.5" r="1.25" fill="#3f63a8" fill-opacity="0.64"/><circle cx="73.6" cy="329.5" r="1.25" fill="#3f63a8" fill-opacity="0.64"/><circle cx="80" cy="333" r="1.25" fill="#3f63a8" fill-opacity="0.64"/><circle cx="81.8" cy="332.5" r="1.25" fill="#3f63a8" fill-opacity="0.64"/><circle cx="78.5" cy="339.6" r="1.25" fill="#3f63a8" fill-opacity="0.64"/><circle cx="79.2" cy="346.5" r="1.25" fill="#3f63a8" fill-opacity="0.64"/><circle cx="82.3" cy="351.1" r="1.25" fill="#3f63a8" fill-opacity="0.64"/><circle cx="74.2" cy="352.1" r="1.25" fill="#3f63a8" fill-opacity="0.64"/><circle cx="78" cy="353.3" r="1.25" fill="#3f63a8" fill-opacity="0.64"/><circle cx="71.1" cy="359.2" r="1.25" fill="#3f63a8" fill-opacity="0.64"/>
<path d="M197.6,270.9 L215.4,270.9 C216.37,271.78 219.38,274.30 221.20,276.20 C223.02,278.10 225.03,280.32 226.30,282.30 C227.57,284.28 228.60,286.17 228.80,288.10 C229.00,290.03 228.48,291.78 227.50,293.90 C226.52,296.02 224.58,298.60 222.90,300.80 C221.22,303.00 218.83,304.98 217.40,307.10 C215.97,309.22 215.07,311.17 214.30,313.50 C213.53,315.83 213.47,318.35 212.80,321.10 C212.13,323.85 211.15,326.83 210.30,330.00 C209.45,333.17 208.55,336.72 207.70,340.10 C206.85,343.48 206.03,346.70 205.20,350.30 C204.37,353.90 203.12,359.80 202.70,361.70 L197.6,361.7 Z" fill="#f6ba95"/>
<line x1="184.1" y1="270.4" x2="184.1" y2="285.0" stroke="#ef8843" stroke-width="1"/><line x1="184.1" y1="320.3" x2="184.1" y2="361.5" stroke="#ef8843" stroke-width="1"/><line x1="179.6" y1="270.4" x2="188.6" y2="270.4" stroke="#ef8843" stroke-width="1"/><line x1="179.6" y1="361.5" x2="188.6" y2="361.5" stroke="#ef8843" stroke-width="1"/><rect x="180.10" y="285.5" width="8.00" height="34.30" fill="#f6ba95" stroke="#ef8843" stroke-width="1"/><line x1="180.10" y1="296.2" x2="188.10" y2="296.2" stroke="#ef8843" stroke-width="2"/>
<circle cx="170.5" cy="269.7" r="1.25" fill="#ef8843" fill-opacity="0.64"/><circle cx="169.2" cy="271.9" r="1.25" fill="#ef8843" fill-opacity="0.64"/><circle cx="163.9" cy="273.1" r="1.25" fill="#ef8843" fill-opacity="0.64"/><circle cx="165" cy="280.2" r="1.25" fill="#ef8843" fill-opacity="0.64"/><circle cx="170.9" cy="283.9" r="1.25" fill="#ef8843" fill-opacity="0.64"/><circle cx="171.0" cy="284.1" r="1.25" fill="#ef8843" fill-opacity="0.64"/><circle cx="161.2" cy="285.3" r="1.25" fill="#ef8843" fill-opacity="0.64"/><circle cx="165.8" cy="285.8" r="1.25" fill="#ef8843" fill-opacity="0.64"/><circle cx="168" cy="288.7" r="1.25" fill="#ef8843" fill-opacity="0.64"/><circle cx="170.8" cy="288.5" r="1.25" fill="#ef8843" fill-opacity="0.64"/><circle cx="166.1" cy="293.4" r="1.25" fill="#ef8843" fill-opacity="0.64"/><circle cx="170.5" cy="295.1" r="1.25" fill="#ef8843" fill-opacity="0.64"/><circle cx="163.1" cy="296.1" r="1.25" fill="#ef8843" fill-opacity="0.64"/><circle cx="169" cy="296.7" r="1.25" fill="#ef8843" fill-opacity="0.64"/><circle cx="167.3" cy="298" r="1.25" fill="#ef8843" fill-opacity="0.64"/><circle cx="165.7" cy="299.2" r="1.25" fill="#ef8843" fill-opacity="0.64"/><circle cx="162.2" cy="314.0" r="1.25" fill="#ef8843" fill-opacity="0.64"/><circle cx="169.9" cy="318.1" r="1.25" fill="#ef8843" fill-opacity="0.64"/><circle cx="170.0" cy="318.3" r="1.25" fill="#ef8843" fill-opacity="0.64"/><circle cx="167.3" cy="322" r="1.25" fill="#ef8843" fill-opacity="0.64"/><circle cx="168.8" cy="324.8" r="1.25" fill="#ef8843" fill-opacity="0.64"/><circle cx="166.7" cy="334.9" r="1.25" fill="#ef8843" fill-opacity="0.64"/><circle cx="166.4" cy="339.4" r="1.25" fill="#ef8843" fill-opacity="0.64"/><circle cx="169.6" cy="338.7" r="1.25" fill="#ef8843" fill-opacity="0.64"/><circle cx="167.3" cy="353.7" r="1.25" fill="#ef8843" fill-opacity="0.64"/><circle cx="166.7" cy="361.6" r="1.25" fill="#ef8843" fill-opacity="0.64"/>
<line x1="271.6" y1="363.4" x2="271.6" y2="268.3" stroke="#b0b0b0" stroke-width="0.8"/><line x1="268.3" y1="363.4" x2="271.6" y2="363.4" stroke="#b0b0b0" stroke-width="0.8"/><text transform="translate(265.6,367.34999999999997) scale(1,1.09)" font-size="7.7" text-anchor="end" fill="#1c1c1c" >0.0</text><line x1="268.3" y1="344.38" x2="271.6" y2="344.38" stroke="#b0b0b0" stroke-width="0.8"/><text transform="translate(265.6,348.33) scale(1,1.09)" font-size="7.7" text-anchor="end" fill="#1c1c1c" >0.2</text><line x1="268.3" y1="325.36" x2="271.6" y2="325.36" stroke="#b0b0b0" stroke-width="0.8"/><text transform="translate(265.6,329.31) scale(1,1.09)" font-size="7.7" text-anchor="end" fill="#1c1c1c" >0.4</text><line x1="268.3" y1="306.34" x2="271.6" y2="306.34" stroke="#b0b0b0" stroke-width="0.8"/><text transform="translate(265.6,310.28999999999996) scale(1,1.09)" font-size="7.7" text-anchor="end" fill="#1c1c1c" >0.6</text><line x1="268.3" y1="287.32" x2="271.6" y2="287.32" stroke="#b0b0b0" stroke-width="0.8"/><text transform="translate(265.6,291.27) scale(1,1.09)" font-size="7.7" text-anchor="end" fill="#1c1c1c" >0.8</text><line x1="268.3" y1="268.3" x2="271.6" y2="268.3" stroke="#b0b0b0" stroke-width="0.8"/><text transform="translate(265.6,272.25) scale(1,1.09)" font-size="7.7" text-anchor="end" fill="#1c1c1c" >1.0</text><text transform="translate(250.3,316.45000000000005) rotate(-90)" font-size="7.12" text-anchor="middle" fill="#1c1c1c">Within-Route R²</text>
<path d="M325.4,371.7 V368.4 H415.5 V371.7" fill="none" stroke="#b0b0b0" stroke-width="0.8"/><text transform="translate(325.4,379.6) scale(1,1.11)" font-size="7.5" text-anchor="middle" fill="#1c1c1c" >Compass</text><text transform="translate(415.5,379.6) scale(1,1.11)" font-size="7.5" text-anchor="middle" fill="#1c1c1c" >Control</text><text transform="translate(370.45,392.8) scale(1,1.1)" font-size="7.25" text-anchor="middle" fill="#1c1c1c" >Condition</text>
<path d="M338.9,271.6 L353.6,271.6 C354.02,272.23 355.55,274.05 356.10,275.40 C356.65,276.75 356.90,278.00 356.90,279.70 C356.90,281.40 356.65,283.57 356.10,285.60 C355.55,287.63 354.40,289.58 353.60,291.90 C352.80,294.22 351.82,296.97 351.30,299.50 C350.78,302.03 350.67,304.77 350.50,307.10 C350.33,309.43 350.58,311.17 350.30,313.50 C350.02,315.83 349.43,318.57 348.80,321.10 C348.17,323.63 347.18,326.17 346.50,328.70 C345.82,331.23 345.17,333.55 344.70,336.30 C344.23,339.05 344.00,341.82 343.70,345.20 C343.40,348.58 343.03,354.70 342.90,356.60 L338.9,356.6 Z" fill="#94a6cd"/>
<line x1="326.0" y1="271.5" x2="326.0" y2="279.7" stroke="#3f63a8" stroke-width="1"/><line x1="326.0" y1="318.3" x2="326.0" y2="356.7" stroke="#3f63a8" stroke-width="1"/><line x1="321.5" y1="271.5" x2="330.5" y2="271.5" stroke="#3f63a8" stroke-width="1"/><line x1="321.5" y1="356.7" x2="330.5" y2="356.7" stroke="#3f63a8" stroke-width="1"/><rect x="322.00" y="280.2" width="8.00" height="37.60" fill="#94a6cd" stroke="#3f63a8" stroke-width="1"/><line x1="322.00" y1="292.6" x2="330.00" y2="292.6" stroke="#3f63a8" stroke-width="2"/>
<circle cx="304.4" cy="271.1" r="1.25" fill="#3f63a8" fill-opacity="0.64"/><circle cx="306.9" cy="270.9" r="1.25" fill="#3f63a8" fill-opacity="0.64"/><circle cx="306.7" cy="272.9" r="1.25" fill="#3f63a8" fill-opacity="0.64"/><circle cx="307.9" cy="274.2" r="1.25" fill="#3f63a8" fill-opacity="0.64"/><circle cx="314.5" cy="278" r="1.25" fill="#3f63a8" fill-opacity="0.64"/><circle cx="310" cy="279.2" r="1.25" fill="#3f63a8" fill-opacity="0.64"/><circle cx="311.7" cy="280" r="1.25" fill="#3f63a8" fill-opacity="0.64"/><circle cx="313.8" cy="281.3" r="1.25" fill="#3f63a8" fill-opacity="0.64"/><circle cx="305.4" cy="280.5" r="1.25" fill="#3f63a8" fill-opacity="0.64"/><circle cx="306.2" cy="283.8" r="1.25" fill="#3f63a8" fill-opacity="0.64"/><circle cx="310" cy="284.3" r="1.25" fill="#3f63a8" fill-opacity="0.64"/><circle cx="305.4" cy="286.1" r="1.25" fill="#3f63a8" fill-opacity="0.64"/><circle cx="303.6" cy="292.7" r="1.25" fill="#3f63a8" fill-opacity="0.64"/><circle cx="311.2" cy="292.7" r="1.25" fill="#3f63a8" fill-opacity="0.64"/><circle cx="309.5" cy="303.8" r="1.25" fill="#3f63a8" fill-opacity="0.64"/><circle cx="304.4" cy="309.7" r="1.25" fill="#3f63a8" fill-opacity="0.64"/><circle cx="305.6" cy="311.7" r="1.25" fill="#3f63a8" fill-opacity="0.64"/><circle cx="310.7" cy="310.4" r="1.25" fill="#3f63a8" fill-opacity="0.64"/><circle cx="313" cy="314.8" r="1.25" fill="#3f63a8" fill-opacity="0.64"/><circle cx="307.4" cy="321.9" r="1.25" fill="#3f63a8" fill-opacity="0.64"/><circle cx="305.4" cy="324.2" r="1.25" fill="#3f63a8" fill-opacity="0.64"/><circle cx="310" cy="324.2" r="1.25" fill="#3f63a8" fill-opacity="0.64"/><circle cx="313.3" cy="321.9" r="1.25" fill="#3f63a8" fill-opacity="0.64"/><circle cx="302.9" cy="348.3" r="1.25" fill="#3f63a8" fill-opacity="0.64"/><circle cx="313.8" cy="347.8" r="1.25" fill="#3f63a8" fill-opacity="0.64"/><circle cx="312" cy="356.6" r="1.25" fill="#3f63a8" fill-opacity="0.64"/>
<path d="M429.1,272.4 L447.4,272.4 C448.58,273.03 452.48,274.85 454.50,276.20 C456.52,277.55 458.53,279.23 459.50,280.50 C460.47,281.77 460.50,282.53 460.30,283.80 C460.10,285.07 459.70,286.53 458.30,288.10 C456.90,289.67 454.02,291.50 451.90,293.20 C449.78,294.90 447.08,296.62 445.60,298.30 C444.12,299.98 443.55,301.62 443.00,303.30 C442.45,304.98 442.72,306.70 442.30,308.40 C441.88,310.10 441.43,311.80 440.50,313.50 C439.57,315.20 437.97,316.70 436.70,318.60 C435.43,320.50 433.87,322.78 432.90,324.90 C431.93,327.02 431.37,329.18 430.90,331.30 C430.43,333.42 430.28,335.70 430.10,337.60 C429.92,339.50 429.85,341.85 429.80,342.70 L429.1,342.7 Z" fill="#f6ba95"/>
<line x1="415.1" y1="272.5" x2="415.1" y2="280.4" stroke="#ef8843" stroke-width="1"/><line x1="415.1" y1="302.2" x2="415.1" y2="316.1" stroke="#ef8843" stroke-width="1"/><line x1="410.6" y1="272.5" x2="419.6" y2="272.5" stroke="#ef8843" stroke-width="1"/><line x1="410.6" y1="316.1" x2="419.6" y2="316.1" stroke="#ef8843" stroke-width="1"/><rect x="411.10" y="280.9" width="8.00" height="20.80" fill="#f6ba95" stroke="#ef8843" stroke-width="1"/><line x1="411.10" y1="285.9" x2="419.10" y2="285.9" stroke="#ef8843" stroke-width="2"/>
<circle cx="401.5" cy="272.4" r="1.25" fill="#ef8843" fill-opacity="0.64"/><circle cx="402.3" cy="274.7" r="1.25" fill="#ef8843" fill-opacity="0.64"/><circle cx="396.4" cy="278" r="1.25" fill="#ef8843" fill-opacity="0.64"/><circle cx="394.6" cy="278.7" r="1.25" fill="#ef8843" fill-opacity="0.64"/><circle cx="392.6" cy="280.5" r="1.25" fill="#ef8843" fill-opacity="0.64"/><circle cx="399.5" cy="278.7" r="1.25" fill="#ef8843" fill-opacity="0.64"/><circle cx="400.7" cy="281.3" r="1.25" fill="#ef8843" fill-opacity="0.64"/><circle cx="402.8" cy="281.8" r="1.25" fill="#ef8843" fill-opacity="0.64"/><circle cx="400.2" cy="283" r="1.25" fill="#ef8843" fill-opacity="0.64"/><circle cx="397.7" cy="285.6" r="1.25" fill="#ef8843" fill-opacity="0.64"/><circle cx="399.7" cy="285.6" r="1.25" fill="#ef8843" fill-opacity="0.64"/><circle cx="401.5" cy="287.4" r="1.25" fill="#ef8843" fill-opacity="0.64"/><circle cx="397.2" cy="289.9" r="1.25" fill="#ef8843" fill-opacity="0.64"/><circle cx="399" cy="290.6" r="1.25" fill="#ef8843" fill-opacity="0.64"/><circle cx="402.8" cy="290.6" r="1.25" fill="#ef8843" fill-opacity="0.64"/><circle cx="400.7" cy="295.2" r="1.25" fill="#ef8843" fill-opacity="0.64"/><circle cx="396.9" cy="299" r="1.25" fill="#ef8843" fill-opacity="0.64"/><circle cx="397.7" cy="304.6" r="1.25" fill="#ef8843" fill-opacity="0.64"/><circle cx="394.6" cy="308.4" r="1.25" fill="#ef8843" fill-opacity="0.64"/><circle cx="398.5" cy="311.5" r="1.25" fill="#ef8843" fill-opacity="0.64"/><circle cx="399.7" cy="311" r="1.25" fill="#ef8843" fill-opacity="0.64"/><circle cx="401.5" cy="316.5" r="1.25" fill="#ef8843" fill-opacity="0.64"/><circle cx="397.7" cy="342.7" r="1.25" fill="#ef8843" fill-opacity="0.64"/>
</svg>
</body></html>
